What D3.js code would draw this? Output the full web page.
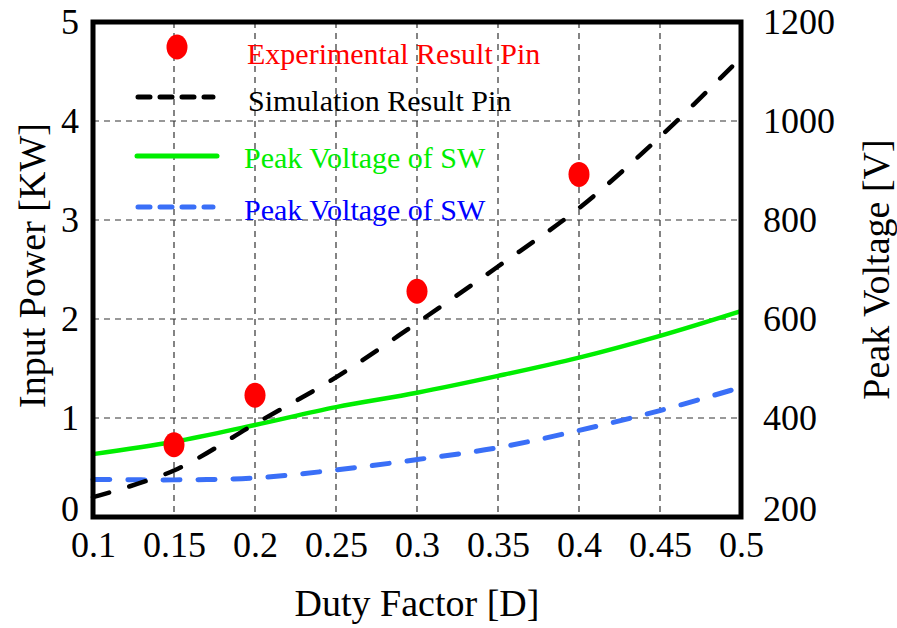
<!DOCTYPE html>
<html>
<head>
<meta charset="utf-8">
<script src="https://cdn.jsdelivr.net/npm/d3@7"></script>
<style>
  html, body { margin: 0; padding: 0; background: #fff; }
  svg, svg text { font-family: "Liberation Serif", "Times New Roman", serif; }
  svg { display: block; }
</style>
</head>
<body>
<svg id="chart" width="897" height="628"></svg>
<script>
// Duty factor sweep
const duty = [0.1, 0.15, 0.2, 0.25, 0.3, 0.35, 0.4, 0.45, 0.5];
// Simulated input power [KW]
const simPin = [0.2, 0.47, 0.94, 1.41, 1.96, 2.53, 3.12, 3.84, 4.64];
// Peak switch voltage [V] (two cases)
const peakV1 = [327, 352, 386, 422, 451, 485, 522, 566, 616];
const peakV2 = [276, 275, 279, 295, 316, 340, 375, 415, 462];
// Measured input power [KW]
const expDuty = [0.15, 0.2, 0.3, 0.4];
const expPin = [0.73, 1.23, 2.28, 3.46];
// Axis ticks
const xTicks = [0.1, 0.15, 0.2, 0.25, 0.3, 0.35, 0.4, 0.45, 0.5];
const yLeftTicks = [0, 1, 2, 3, 4, 5];
const yRightTicks = [200, 400, 600, 800, 1000, 1200];
// Legend entries
const legendLabels = ["Experimental Result Pin", "Simulation Result Pin", "Peak Voltage of SW", "Peak Voltage of SW"];

const svg = d3.select("#chart");
const m = { left: 93, right: 741, top: 22, bottom: 517 };

const x = d3.scaleLinear().domain([0.1, 0.5]).range([m.left, m.right]);
const yL = d3.scaleLinear().domain([0, 5]).range([m.bottom, m.top]);
const yR = d3.scaleLinear().domain([200, 1200]).range([m.bottom, m.top]);

const SERIF = '"Liberation Serif", "Times New Roman", serif';

// Grid
const grid = svg.append("g").attr("stroke", "#333").attr("stroke-width", 1.2)
  .attr("stroke-dasharray", "6,5").attr("fill", "none");
grid.selectAll("line.v").data(xTicks.slice(1, -1)).join("line")
  .attr("x1", d => x(d)).attr("x2", d => x(d))
  .attr("y1", m.top).attr("y2", m.bottom);
grid.selectAll("line.h").data(yLeftTicks.slice(1, -1)).join("line")
  .attr("x1", m.left).attr("x2", m.right)
  .attr("y1", d => yL(d)).attr("y2", d => yL(d));

// Axes (labels only, no tick marks)
const tickFont = 36;
function styleTicks(g) {
  g.select(".domain").remove();
  g.attr("font-family", SERIF).attr("font-size", tickFont);
  g.selectAll("text").style("font-family", SERIF).style("font-size", tickFont + "px").attr("fill", "#000");
}

const xAxis = d3.axisBottom(x).tickValues(xTicks).tickSize(0).tickPadding(14)
  .tickFormat(d3.format("~g"));
svg.append("g").attr("transform", `translate(0,${m.bottom})`).call(xAxis).call(styleTicks);

const yAxisL = d3.axisLeft(yL).tickValues(yLeftTicks).tickSize(0).tickPadding(14)
  .tickFormat(d3.format("d"));
const gyl = svg.append("g").attr("transform", `translate(${m.left},0)`).call(yAxisL).call(styleTicks);
gyl.selectAll("text").attr("dy", d => d === 0 ? "0.1em" : "0.32em");

const yAxisR = d3.axisRight(yR).tickValues(yRightTicks).tickSize(0).tickPadding(22)
  .tickFormat(d3.format("d"));
const gyr = svg.append("g").attr("transform", `translate(${m.right},0)`).call(yAxisR).call(styleTicks);
gyr.selectAll("text").attr("dy", d => d === 200 ? "0.1em" : "0.32em");

// Axis titles
const titleFont = 38;
svg.append("text").attr("x", (m.left + m.right) / 2).attr("y", 616)
  .attr("text-anchor", "middle").attr("font-size", titleFont).text("Duty Factor [D]");
svg.append("text").attr("transform", `translate(45,${(m.top + m.bottom) / 2 - 4}) rotate(-90)`)
  .attr("text-anchor", "middle").attr("font-size", titleFont).text("Input Power [KW]");
svg.append("text").attr("transform", `translate(889,${(m.top + m.bottom) / 2}) rotate(-90)`)
  .attr("text-anchor", "middle").attr("font-size", titleFont).text("Peak Voltage [V]");

// Curves
const curve = d3.curveCatmullRom.alpha(0.5);
const lineL = d3.line().x((d, i) => x(duty[i])).y(d => yL(d)).curve(curve);
const lineR = d3.line().x((d, i) => x(duty[i])).y(d => yR(d)).curve(curve);

const plot = svg.append("g");
plot.append("path").attr("d", lineR(peakV1)).attr("fill", "none")
  .attr("stroke", "#00ee00").attr("stroke-width", 4.5);
plot.append("path").attr("d", lineR(peakV2)).attr("fill", "none")
  .attr("stroke", "#3a6ff7").attr("stroke-width", 5).attr("stroke-linecap", "round")
  .attr("stroke-dasharray", "17,18");
plot.append("path").attr("d", lineL(simPin)).attr("fill", "none")
  .attr("stroke", "#000").attr("stroke-width", 4.5).attr("stroke-linecap", "round")
  .attr("stroke-dasharray", "17,21");

plot.selectAll("ellipse.exp").data(expPin).join("ellipse")
  .attr("cx", (d, i) => x(expDuty[i])).attr("cy", d => yL(d))
  .attr("rx", 10.5).attr("ry", 12.5).attr("fill", "#ff0000");

// Frame
svg.append("rect").attr("x", m.left).attr("y", m.top)
  .attr("width", m.right - m.left).attr("height", m.bottom - m.top)
  .attr("fill", "none").attr("stroke", "#000").attr("stroke-width", 5);

// Legend
const lg = svg.append("g");
const legFont = 30;
lg.append("ellipse").attr("cx", 177).attr("cy", 47).attr("rx", 10.5).attr("ry", 12.5).attr("fill", "#ff0000");
lg.append("line").attr("x1", 138).attr("x2", 213).attr("y1", 97).attr("y2", 97)
  .attr("stroke", "#000").attr("stroke-width", 5).attr("stroke-linecap", "round").attr("stroke-dasharray", "12,10");
lg.append("line").attr("x1", 137).attr("x2", 217).attr("y1", 156).attr("y2", 156)
  .attr("stroke", "#00ee00").attr("stroke-width", 5).attr("stroke-linecap", "round");
lg.append("line").attr("x1", 138).attr("x2", 213).attr("y1", 207).attr("y2", 207)
  .attr("stroke", "#3a6ff7").attr("stroke-width", 5).attr("stroke-linecap", "round").attr("stroke-dasharray", "12,10");

const legColors = ["#ff0000", "#000000", "#00ee00", "#0000ff"];
const legX = [247, 248, 244, 244];
const legY = [64, 111, 168, 220];
lg.selectAll("text.leg").data(legendLabels).join("text")
  .attr("x", (d, i) => legX[i]).attr("y", (d, i) => legY[i])
  .attr("font-size", legFont).attr("fill", (d, i) => legColors[i]).text(d => d);
</script>
</body>
</html>
